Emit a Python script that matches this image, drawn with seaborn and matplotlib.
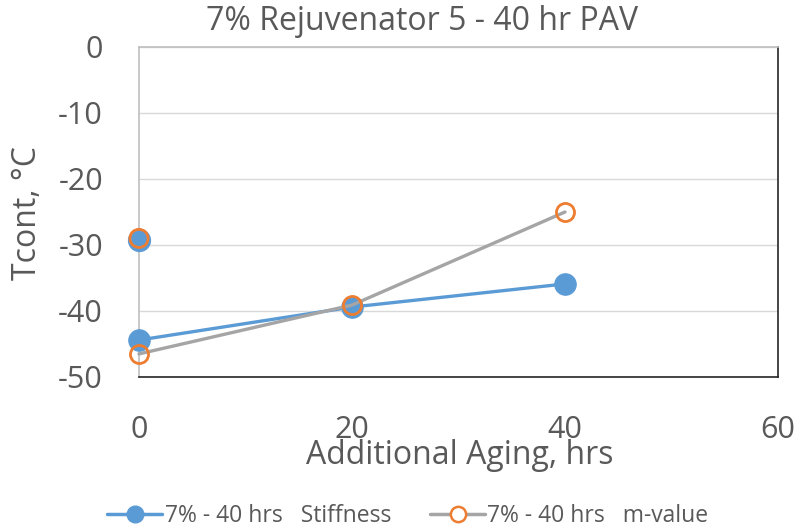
import matplotlib
matplotlib.use("Agg")
import matplotlib.pyplot as plt
import seaborn as sns
import pandas as pd
from matplotlib.lines import Line2D

# Data
aging_hrs = [0, 20, 40]
stiffness = [-44.4, -39.4, -35.9]
m_value = [-46.5, -39.1, -25.0]
extra_x = [0]
extra_stiffness = [-29.3]
extra_m_value = [-29.0]

title = "7% Rejuvenator 5 - 40 hr PAV"
xlabel = "Additional Aging, hrs"
ylabel = "Tcont, °C"
label_stiff = "7% - 40 hrs   Stiffness"
label_m = "7% - 40 hrs   m-value"

BLUE = "#5B9BD5"
ORANGE = "#ED7D31"
GRAY = "#A5A5A5"
TXT = "#595959"

sns.set_theme(style="white")
plt.rcParams['font.family'] = ['Open Sans', 'DejaVu Sans']
plt.rcParams['axes.unicode_minus'] = False

fig = plt.figure(figsize=(8.02, 5.31), dpi=100)
ax = fig.add_axes([139/802, 1-377/531, (778-139)/802, (377-47)/531])

df_s = pd.DataFrame({"x": aging_hrs, "y": stiffness})
df_m = pd.DataFrame({"x": aging_hrs, "y": m_value})

sns.lineplot(data=df_s, x="x", y="y", ax=ax, color=BLUE, linewidth=2.4,
             marker="o", markersize=15.5, markerfacecolor=BLUE, markeredgecolor=BLUE,
             zorder=3, clip_on=False)
sns.lineplot(data=df_m, x="x", y="y", ax=ax, color=GRAY, linewidth=2.4,
             marker="o", markersize=13, markerfacecolor="none", markeredgecolor=ORANGE,
             markeredgewidth=2, zorder=4, clip_on=False)
sns.scatterplot(x=extra_x, y=extra_stiffness, ax=ax, color=BLUE, s=240,
                edgecolor=BLUE, zorder=3, clip_on=False)
sns.scatterplot(x=extra_x, y=extra_m_value, ax=ax, facecolor="none", s=170,
                edgecolor=ORANGE, linewidth=2, zorder=4, clip_on=False)

ax.set_xlim(0, 60)
ax.set_ylim(-50, 0)
ax.set_xticks([0, 20, 40, 60])
ax.set_yticks([0, -10, -20, -30, -40, -50])
ax.yaxis.grid(True, color="#D9D9D9", linewidth=1)
ax.set_axisbelow(True)
ax.tick_params(axis='both', labelsize=22, colors=TXT, length=0)
ax.tick_params(axis='y', pad=26)
ax.tick_params(axis='x', pad=27)

for s in ["left", "top"]:
    ax.spines[s].set_color("#BFBFBF")
    ax.spines[s].set_linewidth(1.2)
for s in ["right", "bottom"]:
    ax.spines[s].set_color("#262626")
    ax.spines[s].set_linewidth(1.2)

ax.set_xlabel("")
ax.set_ylabel("")
fig.text(460/802, 1-455/531, xlabel, fontsize=23, color=TXT, ha="center", va="center")
fig.text(27/802, 1-213/531, ylabel, fontsize=23, color=TXT, ha="center", va="center",
         rotation=90)
fig.text(422/802, 1-22/531, title, fontsize=23, color=TXT, ha="center", va="center")

handles = [
    Line2D([0], [0], color=BLUE, linewidth=2.5, marker="o", markersize=12,
           markerfacecolor=BLUE, markeredgecolor=BLUE),
    Line2D([0], [0], color=GRAY, linewidth=2.5, marker="o", markersize=11,
           markerfacecolor="white", markeredgecolor=ORANGE, markeredgewidth=1.8),
]
fig.legend(handles, [label_stiff, label_m], loc="center", bbox_to_anchor=(408/802, 1-516/531),
           ncol=2, frameon=False, fontsize=16.5, labelcolor=TXT, handlelength=2.4,
           columnspacing=1.7, handletextpad=0.1, borderpad=0)

fig.savefig("out.png", dpi=100)
